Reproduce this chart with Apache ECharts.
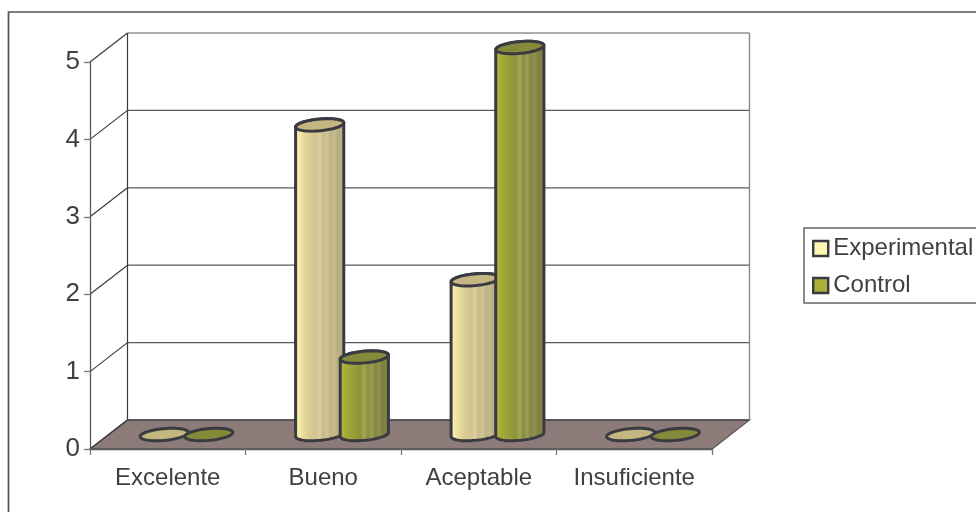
<!DOCTYPE html>
<html>
<head>
<meta charset="utf-8">
<style>html,body{margin:0;padding:0;background:#fff}#chart{width:976px;height:512px}</style>
<script src="https://cdn.jsdelivr.net/npm/echarts@6/dist/echarts.min.js"></script>
</head>
<body>
<div id="chart"></div>
<script>
const categories = ['Excelente', 'Bueno', 'Aceptable', 'Insuficiente'];
const experimental = [0, 4, 2, 0];
const control = [0, 1, 5, 0];
const yTicks = [0, 1, 2, 3, 4, 5];

// Oblique projection of the chart depth, in pixels
const DEPTH_X = 37.5;
const DEPTH_Y = 29;
const INK = '#3a3a42';
const WALL_LINE = '#5a5a5a';
const TEXT = '#3f3f44';
const FONT = '"Liberation Sans", Arial, sans-serif';

function shaded(stops) {
  return new echarts.graphic.LinearGradient(0, 0, 1, 0,
    stops.map((c, i) => ({ offset: i / (stops.length - 1), color: c })));
}

const expBody = shaded(['#fff6b2', '#fbf0ac', '#efe2a2', '#e4d79a', '#dccf95', '#d6c993', '#d2c590',
  '#dcd09c', '#c8bb89', '#d0c494', '#c0b385', '#c6ba8c', '#b9ac80', '#bdb085', '#b3a67c']);
const ctrlBody = shaded(['#a9af38', '#adb33a', '#a6ac38', '#9fa438', '#999e38', '#93973a', '#8f933b',
  '#a3a858', '#8b8e3c', '#9a9d58', '#85873c', '#8f9156', '#7f803c', '#83843f', '#75763c']);

// Ellipse point of a cylinder cross-section lying in the floor plane
function ellipsePoint(cx, cy, rx, dx, dy, t) {
  return [cx + rx * Math.cos(t) + dx * Math.sin(t), cy - dy * Math.sin(t)];
}

function renderCylinder(side, bodyFill, topFill) {
  return function (params, api) {
    const band = api.size([1, 0])[0];
    const v = api.value(1);
    const base = api.coord([api.value(0), 0]);
    const top = api.coord([api.value(0), v]);
    const cx = base[0] + DEPTH_X / 2 + side * band * 0.1435;
    const yBase = base[1] - DEPTH_Y / 2;
    const yTop = top[1] - DEPTH_Y / 2;
    const rx = band * 0.146;
    const dy = DEPTH_Y * 0.215;
    const dx = DEPTH_X * 0.215;
    const t0 = Math.atan2(dx, rx);
    const N = 48;
    const topRing = [];
    for (let i = 0; i < N; i++) topRing.push(ellipsePoint(cx, yTop, rx, dx, dy, i / N * Math.PI * 2));
    const children = [];
    if (v > 0) {
      // Silhouette: up the right edge, across the top, down the left edge, round the base
      const body = [];
      for (let i = 0; i <= N / 2; i++) body.push(ellipsePoint(cx, yTop, rx, dx, dy, t0 + i / (N / 2) * Math.PI));
      for (let i = 0; i <= N / 2; i++) body.push(ellipsePoint(cx, yBase, rx, dx, dy, t0 + Math.PI + i / (N / 2) * Math.PI));
      children.push({
        type: 'polygon', shape: { points: body },
        style: { fill: bodyFill, stroke: INK, lineWidth: 3, lineJoin: 'round' }
      });
    }
    children.push({
      type: 'polygon', shape: { points: topRing },
      style: { fill: topFill, stroke: INK, lineWidth: 3, lineJoin: 'round' }
    });
    return { type: 'group', children };
  };
}

// Floor, back wall and gridlines, all placed from the axis scales
function renderBackdrop(params, api) {
  const band = api.size([1, 0])[0];
  const left = api.coord([0, 0])[0] - band / 2;
  const right = api.coord([categories.length - 1, 0])[0] + band / 2;
  const y = v => api.coord([0, v])[1];
  const y0 = y(0);
  const yMax = y(yTicks[yTicks.length - 1]);
  const children = [{
    type: 'polygon',
    shape: { points: [[left, y0], [left + DEPTH_X, y0 - DEPTH_Y], [right + DEPTH_X, y0 - DEPTH_Y], [right, y0]] },
    style: { fill: '#8c7b78', stroke: WALL_LINE, lineWidth: 1.3 }
  }];
  yTicks.forEach(t => {
    const yy = y(t);
    children.push({
      type: 'line',
      shape: { x1: left + DEPTH_X, y1: yy - DEPTH_Y, x2: right + DEPTH_X, y2: yy - DEPTH_Y },
      style: { stroke: t === 0 ? INK : WALL_LINE, lineWidth: 1.2 }
    });
    children.push({
      type: 'line',
      shape: { x1: left, y1: yy, x2: left + DEPTH_X, y2: yy - DEPTH_Y },
      style: { stroke: INK, lineWidth: 1.2 }
    });
  });
  children.push({
    type: 'line',
    shape: { x1: left + DEPTH_X, y1: yMax - DEPTH_Y, x2: left + DEPTH_X, y2: y0 - DEPTH_Y },
    style: { stroke: INK, lineWidth: 1.2 }
  });
  children.push({
    type: 'line',
    shape: { x1: right + DEPTH_X, y1: yMax - DEPTH_Y, x2: right + DEPTH_X, y2: y0 - DEPTH_Y },
    style: { stroke: '#8a8a8a', lineWidth: 1.4 }
  });
  return { type: 'group', children };
}

const chart = echarts.init(document.getElementById('chart'), null, { renderer: 'canvas' });
chart.setOption({
  animation: false,
  backgroundColor: '#fff',
  grid: { left: 90, right: 264, top: 62, bottom: 63 },
  xAxis: {
    type: 'category',
    data: categories,
    boundaryGap: true,
    z: 4,
    axisLine: { lineStyle: { color: WALL_LINE, width: 1.3 } },
    axisTick: { show: true, length: 6, lineStyle: { color: '#777', width: 1.3 } },
    axisLabel: { color: TEXT, fontFamily: FONT, fontSize: 24, margin: 17, interval: 0 },
    splitLine: { show: false }
  },
  yAxis: {
    type: 'value',
    min: 0,
    max: 5,
    interval: 1,
    z: 4,
    axisLine: { show: true, lineStyle: { color: WALL_LINE, width: 1.3 } },
    axisTick: { show: true, length: 6, lineStyle: { color: '#777', width: 1.3 } },
    axisLabel: { color: TEXT, fontFamily: FONT, fontSize: 26, margin: 10, padding: [2, 0, 0, 0] },
    splitLine: { show: false }
  },
  legend: {
    left: 804,
    top: 228,
    orient: 'vertical',
    padding: [7, 8, 4, 8],
    itemGap: 10,
    itemWidth: 15,
    itemHeight: 15,
    borderColor: '#666',
    borderWidth: 1.5,
    selectedMode: false,
    textStyle: { color: TEXT, fontFamily: FONT, fontSize: 24, lineHeight: 27 },
    data: [
      { name: 'Experimental', icon: 'rect', itemStyle: { color: '#fff6b2', borderColor: INK, borderWidth: 2.4 } },
      { name: 'Control', icon: 'rect', itemStyle: { color: '#a9af38', borderColor: INK, borderWidth: 2.4 } }
    ]
  },
  graphic: [
    // Outer frame: open towards the right and bottom edges
    { type: 'polyline', silent: true, z: 0,
      shape: { points: [[8.5, 512], [8.5, 12], [976, 12]] },
      style: { fill: null, stroke: '#555', lineWidth: 1.7 } }
  ],
  series: [
    {
      name: 'backdrop', type: 'custom', z: 1, silent: true,
      renderItem: renderBackdrop,
      data: [[0, 0]]
    },
    {
      name: 'Experimental', type: 'custom', z: 3,
      encode: { x: 0, y: 1 },
      itemStyle: { color: '#fff6b2' },
      renderItem: renderCylinder(-1, expBody, '#c4b681'),
      data: experimental.map((v, i) => [i, v])
    },
    {
      name: 'Control', type: 'custom', z: 3,
      encode: { x: 0, y: 1 },
      itemStyle: { color: '#a9af38' },
      renderItem: renderCylinder(1, ctrlBody, '#85893a'),
      data: control.map((v, i) => [i, v])
    }
  ]
});
</script>
</body>
</html>
